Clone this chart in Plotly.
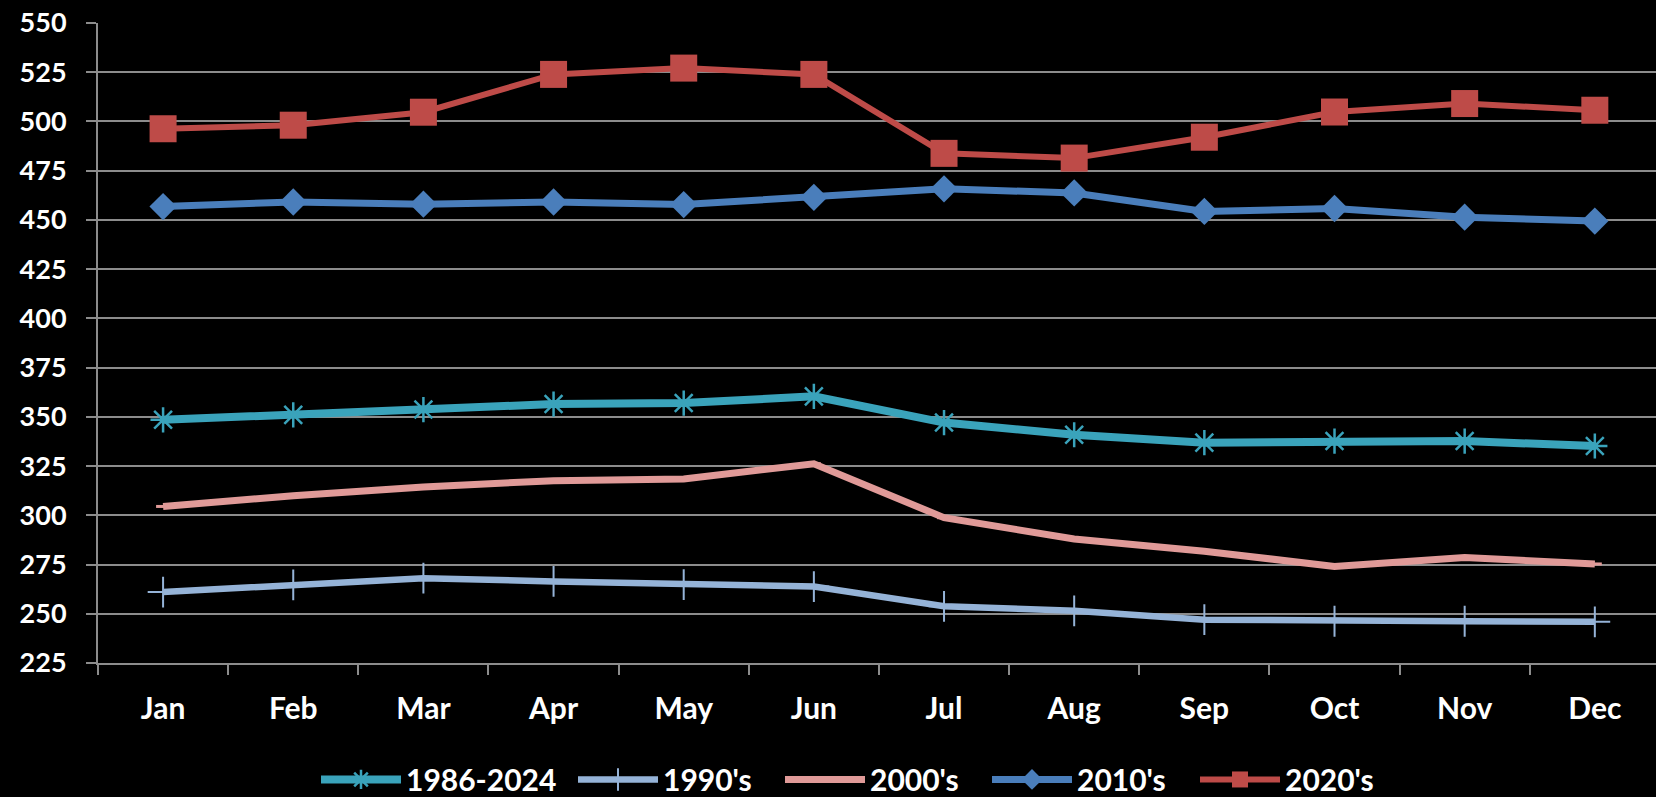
import plotly.graph_objects as go

months = ["Jan", "Feb", "Mar", "Apr", "May", "Jun", "Jul", "Aug", "Sep", "Oct", "Nov", "Dec"]

s_all = [348.5, 351.0, 353.7, 356.5, 357.0, 360.4, 347.1, 340.9, 336.9, 337.7, 337.7, 335.2]
s_1990 = [261.0, 264.7, 268.1, 266.4, 264.8, 263.8, 253.8, 251.5, 247.0, 246.2, 246.2, 245.9]
s_2000 = [304.5, 309.9, 314.4, 317.6, 318.5, 326.2, 298.8, 288.0, 281.8, 274.0, 278.6, 275.3]
s_2010 = [456.8, 459.1, 458.0, 459.1, 457.8, 461.5, 465.8, 463.7, 454.3, 455.8, 451.4, 449.4]
s_2020 = [496.3, 498.1, 504.7, 523.9, 527.1, 523.9, 483.8, 481.4, 492.0, 504.8, 509.1, 505.7]

y_ticks = [225, 250, 275, 300, 325, 350, 375, 400, 425, 450, 475, 500, 525, 550]

FONT = "Lato"
W, H = 1656, 797

fig = go.Figure()

fig.add_trace(go.Scatter(
    x=months, y=s_all, name="1986-2024", mode="lines+markers", legend="legend",
    line=dict(color="#3AA3BB", width=8),
    marker=dict(symbol="asterisk-open", size=21, line=dict(color="#3AA3BB", width=2.5)),
))
fig.add_trace(go.Scatter(
    x=months, y=s_1990, name="1990's", mode="lines+markers", legend="legend2",
    line=dict(color="#95B3D7", width=6.5),
    marker=dict(symbol="cross-thin-open", size=22, line=dict(color="#95B3D7", width=2)),
))
fig.add_trace(go.Scatter(
    x=months, y=s_2000, name="2000's", mode="lines+markers", legend="legend3",
    line=dict(color="#E09A98", width=7),
    marker=dict(symbol="line-ew-open", size=10, line=dict(color="#E09A98", width=3)),
))
fig.add_trace(go.Scatter(
    x=months, y=s_2010, name="2010's", mode="lines+markers", legend="legend4",
    line=dict(color="#4A7EBB", width=7),
    marker=dict(symbol="diamond", size=21, color="#4A7EBB"),
))
fig.add_trace(go.Scatter(
    x=months, y=s_2020, name="2020's", mode="lines+markers", legend="legend5",
    line=dict(color="#BE4B48", width=6),
    marker=dict(symbol="square", size=27, color="#BE4B48"),
))

legend_starts = [316, 573, 780, 987, 1195]


def make_legend(xpix):
    return dict(
        orientation="h",
        xref="container", yref="container",
        x=xpix / W, xanchor="left",
        y=0.022, yanchor="middle",
        font=dict(family=FONT, size=30, color="white", weight="bold"),
        bgcolor="rgba(0,0,0,0)",
        itemwidth=80,
    )


fig.update_layout(
    width=W, height=H,
    paper_bgcolor="black", plot_bgcolor="black",
    margin=dict(l=98, r=0, t=23, b=134),
    font=dict(family=FONT, color="white", size=28),
    showlegend=True,
    legend=make_legend(legend_starts[0]),
    legend2=make_legend(legend_starts[1]),
    legend3=make_legend(legend_starts[2]),
    legend4=make_legend(legend_starts[3]),
    legend5=make_legend(legend_starts[4]),
    xaxis=dict(
        type="category",
        range=[-0.5, 11.47],
        showgrid=False,
        showline=True, linecolor="#8C8C8C", linewidth=2,
        ticks="outside", tickson="boundaries", ticklen=10, tickwidth=2, tickcolor="#8C8C8C",
        tickfont=dict(family=FONT, size=30, color="white", weight="bold"),
        ticklabelstandoff=18,
        zeroline=False,
    ),
    yaxis=dict(
        range=[225, 550],
        tickmode="array", tickvals=y_ticks, ticktext=[str(v) for v in y_ticks],
        showgrid=True, gridcolor="#8C8C8C", gridwidth=2,
        showline=True, linecolor="#8C8C8C", linewidth=2,
        ticks="outside", ticklen=10, tickwidth=2, tickcolor="#8C8C8C",
        tickfont=dict(family=FONT, size=27, color="white", weight="bold"),
        ticklabelstandoff=14,
        zeroline=False,
    ),
)

fig.write_html(
    "out.html",
    config={"displayModeBar": False},
    post_script="document.body.style.margin='0';document.body.style.background='black';",
)
